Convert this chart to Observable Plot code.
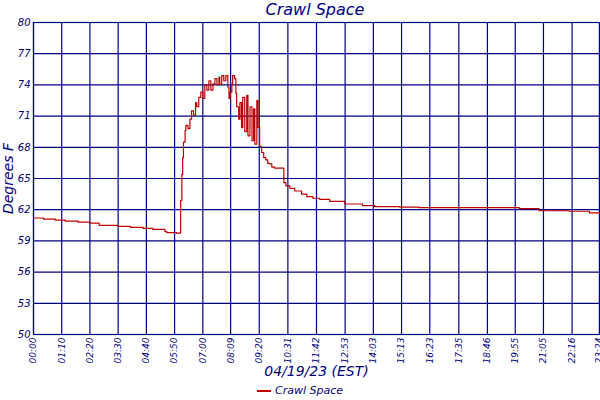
<!DOCTYPE html>
<html>
<head>
<meta charset="utf-8">
<script src="https://cdn.jsdelivr.net/npm/d3@7"></script>
<script src="https://cdn.jsdelivr.net/npm/@observablehq/plot@0.6"></script>
<style>
  body { margin: 0; background: #fff; width: 600px; height: 400px; overflow: hidden; }
  .title { height: 17px; line-height: 17px; text-align: center; font: italic 16px "DejaVu Sans"; color: #000080; padding-left: 30px; }
  .legend { height: 21px; line-height: 22px; padding-top: 5px; text-align: center; font: italic 11px "DejaVu Sans"; color: #000080; }
  .legend .sw { display: inline-block; width: 14px; height: 2px; background: #c00000; vertical-align: middle; margin-right: 4px; }
  #chart svg { display: block; }
</style>
</head>
<body>
<div class="title">Crawl Space</div>
<div id="chart"></div>
<div class="legend"><span class="sw"></span>Crawl Space</div>
<script>
const xLabels = ["00:00","01:10","02:20","03:30","04:40","05:50","07:00","08:09","09:20","10:31","11:42","12:53","14:03","15:13","16:23","17:35","18:46","19:55","21:05","22:16","23:24"];
const yTicks = [50,53,56,59,62,65,68,71,74,77,80];
const minutes = [0,25,54,79,111,140,163,210,240,272,296,326,331,355,365,368,370,372,376,378,383,388,392,397,402,405,410,415,420,425,430,435,440,445,450,455,460,462,467,472,477,482,485,488,492,494,499,502,504,509,512,516,519,524,529,532,537,542,546,549,554,557,561,566,571,576,581,586,591,598,621,626,636,648,665,678,693,710,735,772,816,846,908,957,1155,1205,1254,1329,1379,1404];
const temps = [61.2,61.1,61.0,60.9,60.8,60.7,60.5,60.4,60.3,60.2,60.1,59.9,59.8,59.75,62.9,65.4,67.0,68.5,69.6,70.1,69.8,70.7,71.5,71.1,72.3,71.9,72.8,73.3,72.7,74.0,73.5,74.4,73.5,74.1,74.6,74.0,74.75,74.05,74.9,74.4,74.9,73.8,72.7,73.3,74.1,74.9,74.6,73.2,71.9,70.7,72.3,69.9,72.8,69.5,73.0,69.1,71.9,68.65,71.7,68.3,72.5,69.9,68.1,67.5,67.0,66.8,66.45,66.4,66.1,66.0,64.6,64.3,64.05,63.8,63.5,63.25,63.1,63.0,62.8,62.55,62.4,62.3,62.25,62.2,62.2,62.1,61.9,61.85,61.7,61.7];

const toMin = s => { const [h, m] = s.split(":").map(Number); return h * 60 + m; };
const xTicks = xLabels.map(toMin);
const data = minutes.map((m, i) => ({m, t: temps[i]}));

const navy = "#000080";
const chart = Plot.plot({
  width: 600,
  height: 362,
  marginTop: 5,
  marginBottom: 45,
  marginLeft: 33,
  marginRight: 1,
  style: { fontFamily: "DejaVu Sans", fontStyle: "italic", fontSize: "10px", color: navy, background: "#fff", overflow: "visible" },
  x: { domain: [0, 1404], ticks: xTicks, label: null },
  y: { domain: [50, 80], ticks: yTicks, label: null },
  marks: [
    Plot.gridX(xTicks, { stroke: navy, strokeOpacity: 1, strokeWidth: 1.2 }),
    Plot.gridY(yTicks, { stroke: navy, strokeOpacity: 1, strokeWidth: 1.2 }),
    Plot.frame({ stroke: navy, strokeWidth: 1.2 }),
    Plot.axisX(xTicks, { tickSize: 0, tickPadding: 3, tickRotate: -90, fontSize: 9, tickFormat: (d) => xLabels[xTicks.indexOf(d)], fill: navy, label: null }),
    Plot.axisY(yTicks, { tickSize: 0, tickPadding: 3, fill: navy, label: null }),
    Plot.line(data, { x: "m", y: "t", curve: "step-after", stroke: "#c00000", strokeWidth: 1.2 }),
    Plot.text(["04/19/23 (EST)"], { frameAnchor: "bottom", dy: 37, lineAnchor: "middle", fill: navy, fontSize: 14, fontStyle: "italic" }),
    Plot.text(["Degrees F"], { frameAnchor: "left", dx: -25, rotate: -90, textAnchor: "middle", fill: navy, fontSize: 14, fontStyle: "italic" })
  ]
});
document.getElementById("chart").append(chart);
</script>
</body>
</html>
